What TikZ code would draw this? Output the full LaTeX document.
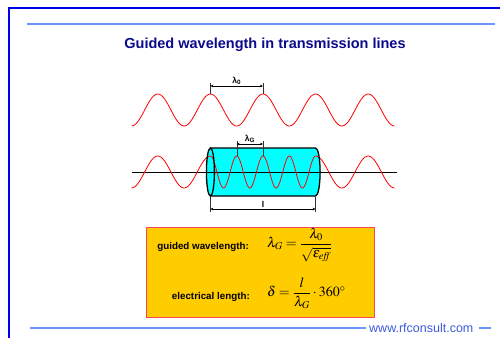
\documentclass[tikz,border=0pt]{standalone}
\usepackage{amsmath}
\usepackage{mathptmx}
\usepackage[no-math]{fontspec}
\setmainfont{Liberation Sans}
\usepackage{xcolor}
\usetikzlibrary{arrows.meta,positioning}
\definecolor{frameblue}{RGB}{0,0,240}
\definecolor{ruleblue}{RGB}{105,150,250}
\definecolor{titleblue}{RGB}{10,10,140}
\definecolor{webblue}{RGB}{60,90,220}
\definecolor{boxyellow}{RGB}{255,204,0}
\definecolor{boxred}{RGB}{250,70,90}
\definecolor{tube}{RGB}{0,255,255}
\def\lamnull{52.6}
\def\lamguide{26.3}

\begin{document}
\begin{tikzpicture}[
  x=1pt,y=-1pt,
  font=\footnotesize,
  wave/.style={red,line width=0.8pt},
  dim/.style={{Stealth[length=3pt,width=2.6pt]}-{Stealth[length=3pt,width=2.6pt]},thin},
  tick/.style={thin,black!80},
  dimlbl/.style={font=\fontsize{8.5}{10}\selectfont\bfseries,inner sep=1pt},
  lbl/.style={font=\fontsize{9.8}{11}\selectfont\bfseries,anchor=east,inner sep=0pt},
  formula/.style={anchor=west,inner sep=0pt,font=\fontsize{14}{16}\selectfont},
  rim/.style={line width=1.3pt},
]
\useasboundingbox (0,0) rectangle (500,338);
% frame and title
\draw[frameblue,line width=1.8pt] (9,338) -- (9,8) -- (500,8);
\draw[ruleblue,line width=1.8pt] (27,24) -- (495,24);
\node[font=\fontsize{14.5}{17}\selectfont\bfseries,text=titleblue] (title) at (265,45) {Guided wavelength in transmission lines};

% free space wave
\draw[wave] plot[domain=131.5:394.5,samples=160] (\x,{110-16*cos(360/\lamnull*(\x-157.8))});
\coordinate (lz0a) at (210.4,86);
\coordinate (lz0b) at (263,86);
\draw[tick] (210.4,83) -- (210.4,94);
\draw[tick] (263,83) -- (263,94);
\draw[dim] (lz0a) -- node[dimlbl,above] (lz0) {λ\textsubscript{0}} (lz0b);

% line section
\fill[tube] (210.4,148) -- (315.6,148) arc[start angle=-90,end angle=90,x radius=4.5,y radius=24]
  -- (210.4,196) arc[start angle=90,end angle=270,x radius=4,y radius=24] -- cycle;
\coordinate (axa) at (132,172);
\coordinate (axb) at (397,172);
\draw (axa) -- (axb);
\draw[wave] plot[domain=131.5:210.4,samples=60] (\x,{172-16*cos(360/\lamnull*(\x-210.4))});
\draw[wave] plot[domain=210.4:315.6,samples=120] (\x,{172-16*cos(360/\lamguide*(\x-210.4))});
\draw[wave] plot[domain=315.6:394.5,samples=60] (\x,{172-16*cos(360/\lamnull*(\x-315.6))});
\draw[rim] (210.4,148) -- (315.6,148) arc[start angle=-90,end angle=90,x radius=4.5,y radius=24] -- (210.4,196);
\draw[rim] (210.4,172) ellipse[x radius=4,y radius=24];

% guided wavelength
\coordinate (lga) at (236.7,144);
\coordinate (lgb) at (263,144);
\draw[tick] (236.7,141) -- (236.7,156);
\draw[tick] (263,141) -- (263,156);
\draw[dim] (lga) -- node[dimlbl,above] (lg) {λ\textsubscript{G}} (lgb);

% length of the line
\coordinate (lena) at (210.4,209);
\coordinate (lenb) at (315.6,209);
\draw[tick] (210.4,197) -- (210.4,212);
\draw[tick] (315.6,197) -- (315.6,212);
\draw[dim] (lena) -- node[dimlbl,above] (len) {l} (lenb);

% formulas
\node[draw=boxred,fill=boxyellow,minimum width=228pt,minimum height=90pt,inner sep=0pt] (formbox) at (260,272) {};
\node[lbl] (gwl) at (249,247) {guided wavelength:};
\node[formula] (gwf) at (267,245) {$\lambda_G=\dfrac{\lambda_0}{\sqrt{\varepsilon_{\mathit{eff}}}}$};
\node[lbl] (ell) at (250,297) {electrical length:};
\node[formula] (elf) at (267,293) {$\delta=\dfrac{l}{\lambda_G}\cdot 360^\circ$};

% footer
\coordinate (ftl) at (30,328);
\node[text=webblue,font=\fontsize{12.5}{14}\selectfont,anchor=west,inner sep=0pt] (web) at (369,328) {www.rfconsult.com};
\coordinate (ftr) at (491,328);
\draw[ruleblue,line width=1.8pt] (ftl) -- ([xshift=-3pt]web.west);
\draw[ruleblue,line width=1.8pt] ([xshift=5pt]web.east) -- (ftr);
\end{tikzpicture}
\end{document}
